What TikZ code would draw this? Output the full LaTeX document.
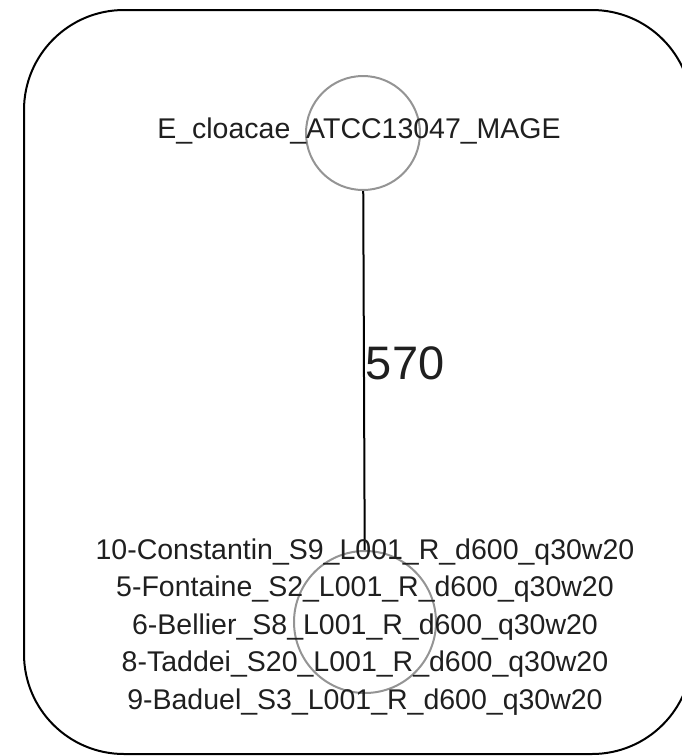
\documentclass[tikz,border=0pt]{standalone}
\usepackage{fontspec}
\setmainfont{Liberation Sans}
\usetikzlibrary{positioning}

\begin{document}
\begin{tikzpicture}[
  x=1pt, y=-1pt,
  frame/.style={draw=black, line width=2pt, rounded corners=100pt},
  vtx/.style={circle, draw=black!42, line width=2pt, inner sep=0pt},
  lbl/.style={font={\fontsize{28.5}{37.5}\selectfont}, text=black!88, align=center, inner sep=0pt},
  link/.style={draw=black, line width=2pt},
  elab/.style={font={\fontsize{47}{56}\selectfont}, text=black!88, inner sep=1pt, anchor=west}
]
\useasboundingbox (0,0) rectangle (682,756);

% outer frame
\draw[frame] (24,10) rectangle (692,754);

% vertices
\node[vtx, minimum size=114pt] (ecl) at (363,133) {};
\node[vtx, minimum size=142pt] (grp) at (365,622) {};

\draw[link] (ecl) -- node[elab, pos=0.48] (w570) {570} (grp);

% labels sit on top of the circles
\node[lbl] (ecllab) at (359,131) {E\_cloacae\_ATCC13047\_MAGE};
\node[lbl] (grplab) at (365,627)
  {10-Constantin\_S9\_L001\_R\_d600\_q30w20\\
   5-Fontaine\_S2\_L001\_R\_d600\_q30w20\\
   6-Bellier\_S8\_L001\_R\_d600\_q30w20\\
   8-Taddei\_S20\_L001\_R\_d600\_q30w20\\
   9-Baduel\_S3\_L001\_R\_d600\_q30w20};

\end{tikzpicture}
\end{document}
